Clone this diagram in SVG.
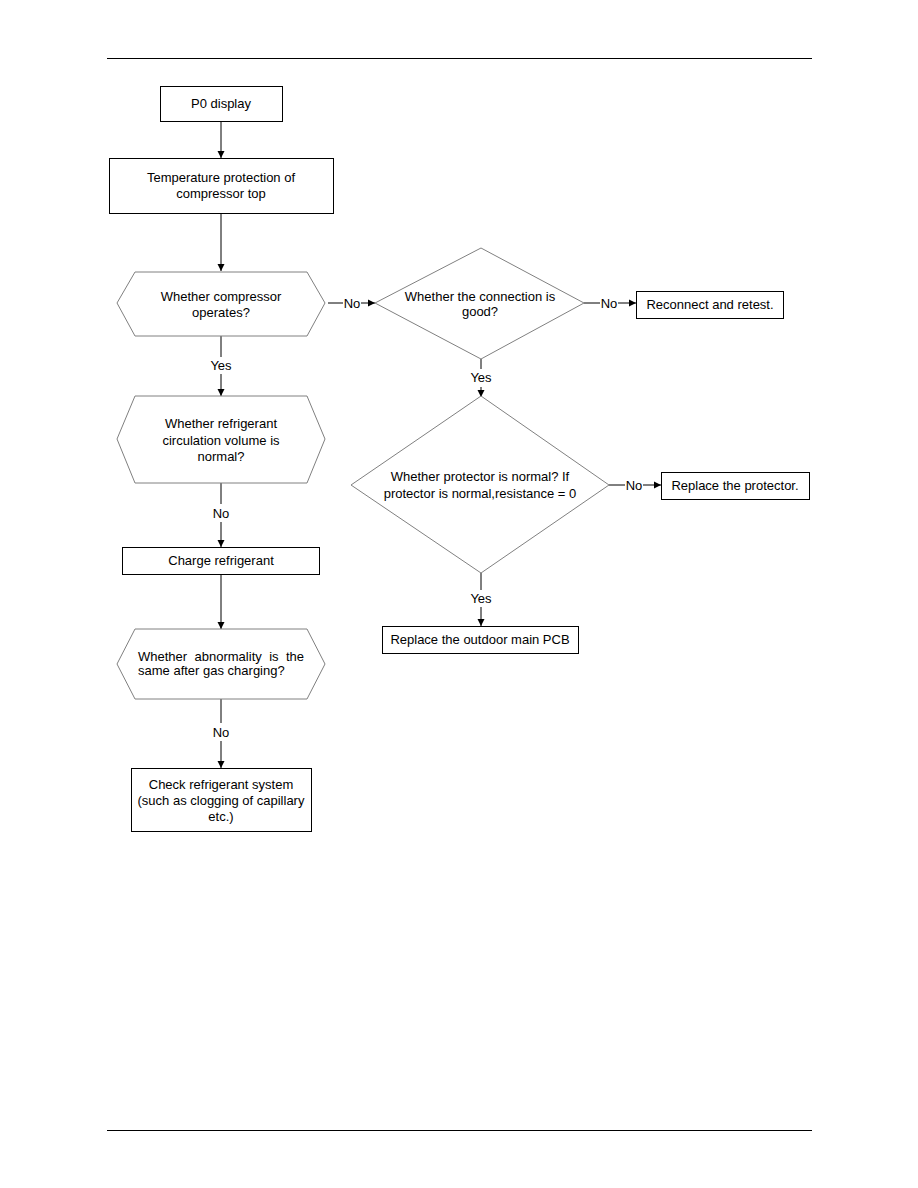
<svg xmlns="http://www.w3.org/2000/svg" width="918" height="1188" viewBox="0 0 918 1188">
<style>
text{font-family:"Liberation Sans",Arial,sans-serif;font-size:13px;fill:#000}
.c{text-anchor:middle}
.box{fill:#fff;stroke:#000;stroke-width:1}
.dec{fill:#fff;stroke:#808080;stroke-width:1}
.ln{stroke:#000;stroke-width:1;fill:none}
.rule{stroke:#000;stroke-width:1}
</style>
<defs>
<marker id="ah" markerWidth="8" markerHeight="8" refX="7" refY="4" orient="auto" markerUnits="userSpaceOnUse">
<path d="M0,0.5 L7,4 L0,7.5 Z" fill="#000"/>
</marker>
</defs>
<rect width="918" height="1188" fill="#fff"/>
<line class="rule" x1="107" y1="58.5" x2="812" y2="58.5"/>
<line class="rule" x1="107" y1="1130.5" x2="812" y2="1130.5"/>

<g id="connectors">
<line class="ln" x1="221" y1="121" x2="221" y2="158" marker-end="url(#ah)"/>
<line class="ln" x1="221" y1="213" x2="221" y2="271" marker-end="url(#ah)"/>
<line class="ln" x1="221" y1="336" x2="221" y2="357"/>
<text class="c" x="221" y="370">Yes</text>
<line class="ln" x1="221" y1="374" x2="221" y2="396" marker-end="url(#ah)"/>
<line class="ln" x1="221" y1="483" x2="221" y2="504"/>
<text class="c" x="221" y="518">No</text>
<line class="ln" x1="221" y1="522" x2="221" y2="547" marker-end="url(#ah)"/>
<line class="ln" x1="221" y1="574" x2="221" y2="629" marker-end="url(#ah)"/>
<line class="ln" x1="221" y1="699" x2="221" y2="723"/>
<text class="c" x="221" y="737">No</text>
<line class="ln" x1="221" y1="741" x2="221" y2="768" marker-end="url(#ah)"/>
<line class="ln" x1="328" y1="303" x2="343" y2="303"/>
<text class="c" x="352" y="308">No</text>
<line class="ln" x1="361" y1="303" x2="375" y2="303" marker-end="url(#ah)"/>
<line class="ln" x1="584" y1="303" x2="600" y2="303"/>
<text class="c" x="609" y="308">No</text>
<line class="ln" x1="618" y1="303" x2="636" y2="303" marker-end="url(#ah)"/>
<line class="ln" x1="481" y1="359" x2="481" y2="369"/>
<text class="c" x="481" y="382">Yes</text>
<line class="ln" x1="481" y1="387" x2="481" y2="397" marker-end="url(#ah)"/>
<line class="ln" x1="609" y1="485" x2="625" y2="485"/>
<text class="c" x="634" y="490">No</text>
<line class="ln" x1="643" y1="485" x2="661" y2="485" marker-end="url(#ah)"/>
<line class="ln" x1="481" y1="573" x2="481" y2="590"/>
<text class="c" x="481" y="603">Yes</text>
<line class="ln" x1="481" y1="607" x2="481" y2="626" marker-end="url(#ah)"/>
</g>

<g id="p0">
<rect class="box" x="160.5" y="86.5" width="122" height="35"/>
<text class="c" x="221" y="108">P0 display</text>
</g>
<g id="temp">
<rect class="box" x="109.5" y="158.5" width="224" height="55"/>
<text class="c" x="221" y="182">Temperature protection of</text>
<text class="c" x="221" y="198">compressor top</text>
</g>
<g id="hex1">
<polygon class="dec" points="135,272 307,272 325,303 307,336 135,336 117,303"/>
<text class="c" x="221" y="301">Whether compressor</text>
<text class="c" x="221" y="317">operates?</text>
</g>
<g id="hex2">
<polygon class="dec" points="135,396 307,396 325,439 307,483 135,483 117,439"/>
<text class="c" x="221" y="428">Whether refrigerant</text>
<text class="c" x="221" y="445">circulation volume is</text>
<text class="c" x="221" y="461">normal?</text>
</g>
<g id="charge">
<rect class="box" x="122.5" y="547.5" width="197" height="27"/>
<text class="c" x="221" y="565">Charge refrigerant</text>
</g>
<g id="hex3">
<polygon class="dec" points="135,629 307,629 325,664 307,699 135,699 117,664"/>
<text x="138" y="661" word-spacing="3.8">Whether abnormality is the</text>
<text x="138" y="675">same after gas charging?</text>
</g>
<g id="check">
<rect class="box" x="131.5" y="768.5" width="180" height="63"/>
<text class="c" x="221" y="789">Check refrigerant system</text>
<text class="c" x="221" y="805">(such as clogging of capillary</text>
<text class="c" x="221" y="821">etc.)</text>
</g>
<g id="conn">
<polygon class="dec" points="481,248 584,303 481,359 375,303"/>
<text class="c" x="480" y="301">Whether the connection is</text>
<text class="c" x="480" y="316">good?</text>
</g>
<g id="reconnect">
<rect class="box" x="636.5" y="291.5" width="147" height="27"/>
<text class="c" x="710" y="309">Reconnect and retest.</text>
</g>
<g id="protector">
<polygon class="dec" points="481,396 609,485 481,573 351,485"/>
<text class="c" x="480" y="481">Whether protector is normal? If</text>
<text class="c" x="480" y="498">protector is normal,resistance = 0</text>
</g>
<g id="replace">
<rect class="box" x="661.5" y="472.5" width="148" height="27"/>
<text class="c" x="735" y="490">Replace the protector.</text>
</g>
<g id="pcb">
<rect class="box" x="382.5" y="626.5" width="196" height="27"/>
<text class="c" x="480" y="644">Replace the outdoor main PCB</text>
</g>
</svg>
